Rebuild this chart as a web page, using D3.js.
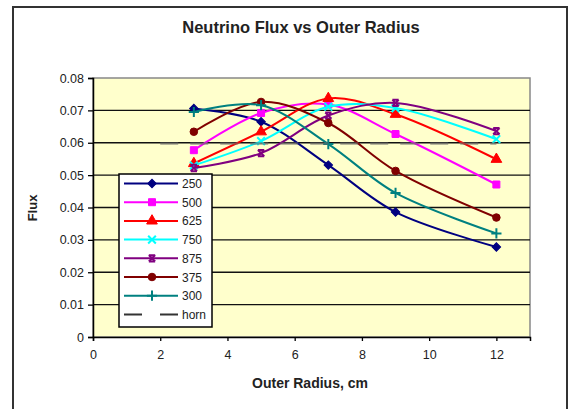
<!DOCTYPE html>
<html>
<head>
<meta charset="utf-8">
<script src="https://cdn.jsdelivr.net/npm/d3@7"></script>
<style>
    body { margin: 0; background: #fff; }
    text { font-family: "Liberation Sans", Arial, sans-serif; fill: #222; }
</style>
</head>
<body>
<div id="FluxChart"></div>
<script>
// Data
var radius = [3, 5, 7, 9, 12];
var flux250 = [0.0706, 0.0665, 0.0531, 0.0386, 0.0278];
var flux500 = [0.0577, 0.0692, 0.0718, 0.0627, 0.0471];
var flux625 = [0.0536, 0.0634, 0.0737, 0.0688, 0.0549];
var flux750 = [0.0530, 0.0605, 0.0711, 0.0707, 0.0611];
var flux875 = [0.0522, 0.0568, 0.0684, 0.0723, 0.0636];
var flux375 = [0.0634, 0.0726, 0.0661, 0.0513, 0.0369];
var flux300 = [0.0695, 0.0716, 0.0596, 0.0445, 0.0320];
var hornRadius = [2, 12];
var hornFlux = [0.0598, 0.0598];

var seriesNames = ["250", "500", "625", "750", "875", "375", "300"];
var xTicks = [0, 2, 4, 6, 8, 10, 12];
var yTicks = [0, 0.01, 0.02, 0.03, 0.04, 0.05, 0.06, 0.07, 0.08];
var yTickLabels = ["0", "0.01", "0.02", "0.03", "0.04", "0.05", "0.06", "0.07", "0.08"];

var seriesValues = [flux250, flux500, flux625, flux750, flux875, flux375, flux300];
var colors = ["#000080", "#ff00ff", "#ff0000", "#00ffff", "#800080", "#800000", "#008080"];

// hourglass-like star marker (Excel "star")
var symbolStar = {
    draw: function (context, size) {
        var r = Math.sqrt(size) / 2;
        context.moveTo(-r, -r); context.lineTo(r, r);
        context.moveTo(r, -r); context.lineTo(-r, r);
        context.moveTo(-r, -r); context.lineTo(r, -r);
        context.moveTo(-r, r); context.lineTo(r, r);
    }
};
var markers = [
    { type: d3.symbolSquare, size: 36, fill: true, rotate: 45 },
    { type: d3.symbolSquare, size: 49, fill: true, rotate: 0 },
    { type: d3.symbolTriangle, size: 50, fill: true, rotate: 0 },
    { type: d3.symbolX, size: 40, fill: false, rotate: 0 },
    { type: symbolStar, size: 40, fill: false, rotate: 0 },
    { type: d3.symbolCircle, size: 45, fill: true, rotate: 0 },
    { type: d3.symbolPlus, size: 36, fill: false, rotate: 0 }
];

var W = 577, H = 409;
var plot = { left: 93, right: 530, top: 78, bottom: 337 };

var svg = d3.select("#FluxChart")
    .append("svg")
    .attr("width", W)
    .attr("height", H);

// Outer chart border
svg.append("rect")
    .attr("x", 13).attr("y", 7)
    .attr("width", 554).attr("height", 420)
    .attr("fill", "#fff")
    .attr("stroke", "#333")
    .attr("stroke-width", 2);

// Set the ranges
var x = d3.scaleLinear().domain([0, 13]).range([plot.left, plot.right]);
var y = d3.scaleLinear().domain([0, 0.08]).range([plot.bottom, plot.top]);

// Plot area
svg.append("rect")
    .attr("x", plot.left).attr("y", plot.top)
    .attr("width", plot.right - plot.left)
    .attr("height", plot.bottom - plot.top)
    .attr("fill", "#ffffcc")
    .attr("stroke", "#888")
    .attr("stroke-width", 1.5);

// Gridlines
svg.append("g")
    .selectAll("line")
    .data(yTicks.slice(1, yTicks.length - 1))
    .enter().append("line")
    .attr("x1", plot.left).attr("x2", plot.right)
    .attr("y1", function (d) { return y(d); })
    .attr("y2", function (d) { return y(d); })
    .attr("stroke", "#111")
    .attr("stroke-width", 1.3);

// Y axis
var yAxis = d3.axisLeft(y)
    .tickValues(yTicks)
    .tickSize(5)
    .tickPadding(4)
    .tickFormat(function (d, i) { return yTickLabels[i]; });

svg.append("g")
    .attr("class", "y axis")
    .attr("transform", "translate(" + plot.left + ",0)")
    .call(yAxis)
    .call(function (g) {
        g.select(".domain").attr("stroke", "#000").attr("stroke-width", 1.5);
        g.selectAll(".tick line").attr("stroke", "#000").attr("stroke-width", 1.3);
        g.selectAll(".tick text").style("font-size", "12.5px").attr("fill", "#444");
    });

// X axis
var xAxis = d3.axisBottom(x)
    .tickValues(xTicks)
    .tickSize(4)
    .tickPadding(9)
    .tickFormat(d3.format("d"));

svg.append("g")
    .attr("class", "x axis")
    .attr("transform", "translate(0," + plot.bottom + ")")
    .call(xAxis)
    .call(function (g) {
        g.select(".domain").attr("stroke", "#000").attr("stroke-width", 1.5);
        g.selectAll(".tick line").attr("stroke", "#000").attr("stroke-width", 1.3);
        g.selectAll(".tick text").style("font-size", "12.5px").attr("fill", "#444");
    });

// Define the line
var valueline = d3.line()
    .curve(d3.curveCatmullRom.alpha(0.5))
    .x(function (d) { return x(d[0]); })
    .y(function (d) { return y(d[1]); });

// Add the series
seriesValues.forEach(function (vals, i) {
    var pts = radius.map(function (r, j) { return [r, vals[j]]; });
    var g = svg.append("g");

    g.append("path")
        .attr("d", valueline(pts))
        .attr("fill", "none")
        .attr("stroke", colors[i])
        .attr("stroke-width", 2);

    pts.forEach(function (p) {
        var mg = g.append("g").attr("transform", "translate(" + x(p[0]) + "," + y(p[1]) + ")");
        var sym = d3.symbol().type(markers[i].type).size(markers[i].size);
        mg.append("path")
            .attr("d", sym())
            .attr("transform", markers[i].rotate ? "rotate(" + markers[i].rotate + ")" : null)
            .attr("fill", markers[i].fill ? colors[i] : "none")
            .attr("stroke", colors[i])
            .attr("stroke-width", markers[i].fill ? 1 : 2);
    });
});

// Horn reference line
var hornPts = hornRadius.map(function (r, j) { return [r, hornFlux[j]]; });
svg.append("path")
    .attr("d", d3.line()
        .x(function (d) { return x(d[0]); })
        .y(function (d) { return y(d[1]); })(hornPts))
    .attr("fill", "none")
    .attr("stroke", "#666")
    .attr("stroke-width", 2.5)
    .attr("stroke-dasharray", "18,12")
    .attr("opacity", 0.6);

// Legend
var legend = svg.append("g").attr("transform", "translate(119,174)");
legend.append("rect")
    .attr("x", 0).attr("y", 0)
    .attr("width", 93).attr("height", 153)
    .attr("fill", "#fff")
    .attr("stroke", "#000")
    .attr("stroke-width", 1.5);

var rowH = 18.7;
seriesNames.forEach(function (name, i) {
    var ry = 9.5 + i * rowH;
    var row = legend.append("g");
    row.append("line")
        .attr("x1", 5).attr("x2", 59)
        .attr("y1", ry).attr("y2", ry)
        .attr("stroke", colors[i])
        .attr("stroke-width", 2);
    var sym = d3.symbol().type(markers[i].type).size(markers[i].size);
    row.append("path")
        .attr("d", sym())
        .attr("transform", "translate(33," + ry + ")" + (markers[i].rotate ? " rotate(" + markers[i].rotate + ")" : ""))
        .attr("fill", markers[i].fill ? colors[i] : "none")
        .attr("stroke", colors[i])
        .attr("stroke-width", markers[i].fill ? 1 : 2);
    row.append("text")
        .attr("x", 63).attr("y", ry + 4.5)
        .style("font-size", "12px")
        .attr("fill", "#444")
        .text(name);
});

var hornY = 9.5 + 7 * rowH;
legend.append("line")
    .attr("x1", 5).attr("x2", 59)
    .attr("y1", hornY).attr("y2", hornY)
    .attr("stroke", "#333")
    .attr("stroke-width", 2)
    .attr("stroke-dasharray", "18,18");
legend.append("text")
    .attr("x", 63).attr("y", hornY + 4.5)
    .style("font-size", "12px")
    .attr("fill", "#444")
    .text("horn");

// Title
svg.append("text")
    .attr("x", 301).attr("y", 33)
    .attr("text-anchor", "middle")
    .style("font-size", "16.5px")
    .style("font-weight", "bold")
    .text("Neutrino Flux vs Outer Radius");

// X axis label
svg.append("text")
    .attr("x", 310).attr("y", 388)
    .attr("text-anchor", "middle")
    .style("font-size", "14px")
    .style("font-weight", "bold")
    .text("Outer Radius, cm");

// Y axis label
svg.append("text")
    .attr("transform", "translate(37,208) rotate(-90)")
    .attr("text-anchor", "middle")
    .style("font-size", "13px")
    .style("font-weight", "bold")
    .text("Flux");
</script>
</body>
</html>
